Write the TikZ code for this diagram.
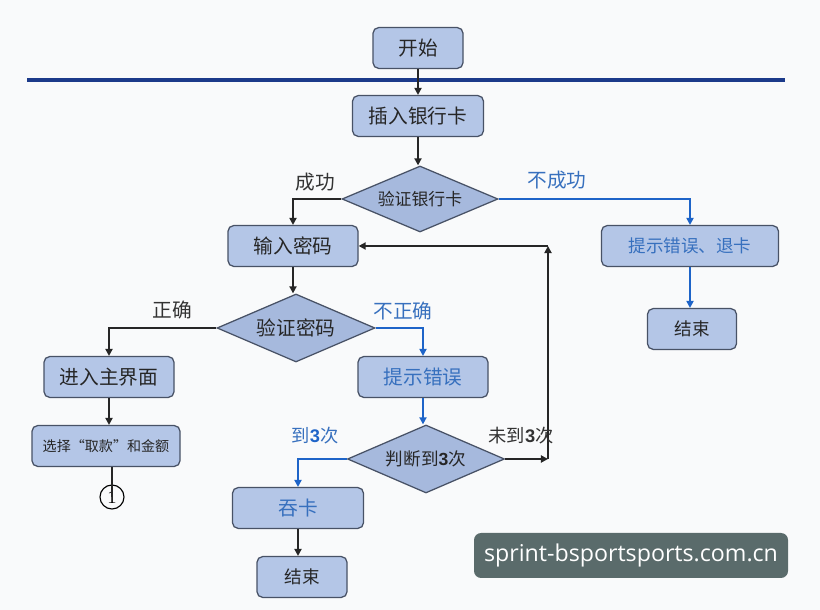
\documentclass[tikz,border=0pt]{standalone}
\usepackage{fontspec}
\setmainfont{Noto Sans CJK SC}
\newfontfamily\numfont{Liberation Sans}
\newfontfamily\serifnum{Liberation Serif}
\newfontfamily\wmfont{Open Sans}
\usetikzlibrary{shapes.geometric, arrows.meta, positioning, calc}
\definecolor{boxfill}{RGB}{180, 198, 231}
\definecolor{diafill}{RGB}{166, 185, 221}
\definecolor{boxedge}{RGB}{72, 82, 102}
\definecolor{linkblue}{RGB}{30, 100, 200}
\definecolor{textblue}{RGB}{55, 112, 190}
\definecolor{ruleblue}{RGB}{28, 58, 138}
\definecolor{wmgray}{RGB}{90, 107, 107}
\definecolor{pagebg}{RGB}{249, 250, 251}

\begin{document}
\begin{tikzpicture}[
  sbox/.style={draw=boxedge, fill=boxfill, rounded corners=4pt, line width=0.9pt, minimum height=1.02cm, inner sep=0pt, font=\fontsize{14}{16}\selectfont, text=black!85},
  dbox/.style={draw=boxedge, fill=diafill, diamond, aspect=2.35, line width=0.9pt, inner sep=0pt, font=\fontsize{12}{14}\selectfont, text=black!85},
  arr/.style={-{Triangle[length=5pt, width=5pt]}, line width=1.4pt, black!85},
  barr/.style={arr, linkblue},
  lbl/.style={font=\fontsize{14}{16}\selectfont, text=black!80},
  blbl/.style={lbl, text=textblue}
]
  \fill[pagebg] (0,0) rectangle (20.5,15.25);
  \useasboundingbox (0,0) rectangle (20.5,15.25);

  % ATM flow
  \node[sbox, minimum width=2.25cm] (start) at (10.45,14.05) {开始};
  \draw[ruleblue, line width=3pt] (0.675,13.25) -- (19.625,13.25);
  \node[sbox, minimum width=3.275cm] (insert) at (10.45,12.35) {插入银行卡};
  \node[dbox, minimum width=3.9cm, minimum height=1.65cm] (vcard) at (10.5,10.275) {验证银行卡};
  \node[sbox, minimum width=3.25cm] (pwd) at (7.325,9.1) {输入密码};
  \node[dbox, minimum width=3.95cm, minimum height=1.7cm, font=\fontsize{14}{16}\selectfont] (vpwd) at (7.4,7.05) {验证密码};
  \node[sbox, minimum width=3.25cm] (mainui) at (2.725,5.825) {进入主界面};
  \node[sbox, minimum width=3.7cm, font=\fontsize{10}{12}\selectfont] (select) at (2.65,4.1) {选择“取款”和金额};
  \node[draw, circle, minimum size=0.6cm, inner sep=0pt, line width=0.8pt, font=\serifnum\fontsize{13}{14}\selectfont] (link) at (2.8,2.825) {1};
  \node[sbox, minimum width=3.25cm, text=textblue] (err) at (10.575,5.825) {提示错误};
  \node[dbox, minimum width=3.925cm, minimum height=1.7cm, font=\fontsize{12.5}{14}\selectfont] (judge) at (10.65,3.775) {判断到{\numfont\bfseries 3}次};
  \node[sbox, minimum width=3.275cm, text=textblue] (eat) at (7.45,2.55) {吞卡};
  \node[sbox, minimum width=2.25cm, font=\fontsize{12.5}{14}\selectfont] (end1) at (7.55,0.825) {结束};
  \node[sbox, minimum width=4.425cm, text=textblue, font=\fontsize{12.5}{14}\selectfont] (errcard) at (17.25,9.1) {提示错误、退卡};
  \node[sbox, minimum width=2.225cm, font=\fontsize{12.5}{14}\selectfont] (end2) at (17.3,7.025) {结束};

  \coordinate (loopB) at (13.7,3.775);
  \coordinate (loopT) at (13.7,9.1);

  \draw[arr] (start) -- (start |- insert.north);
  \draw[arr] (insert) -- (insert |- vcard.north);
  \draw[arr] (vcard.west) -| (pwd.north);
  \draw[barr] (vcard.east) -| (errcard.north);
  \draw[barr] (errcard.south) -- (errcard.south |- end2.north);
  \draw[arr] (pwd.south) -- (pwd.south |- vpwd.north);
  \draw[arr] (vpwd.west) -| (mainui.north);
  \draw[arr] (mainui.south) -- (mainui.south |- select.north);
  \draw[line width=1.4pt, black!85] (select.south -| link) -- (link.center);
  \draw[barr] (vpwd.east) -| (err.north);
  \draw[barr] (err.south) -- (err.south |- judge.north);
  \draw[barr] (judge.west) -| (eat.north);
  \draw[arr] (eat.south) -- (eat.south |- end1.north);
  \draw[arr] (judge.east) -- (loopB);
  \draw[arr] (loopB) -- (loopT);
  \draw[arr] (loopT) -- (pwd.east);

  \node[lbl] (okcard) at (7.875,10.7) {成功};
  \node[blbl] (nocard) at (13.925,10.75) {不成功};
  \node[lbl] (okpwd) at (4.3,7.5) {正确};
  \node[blbl] (nopwd) at (10.075,7.475) {不正确};
  \node[blbl, font=\fontsize{13}{15}\selectfont] (got3) at (7.875,4.35) {到{\numfont\bfseries\color{linkblue}3}次};
  \node[lbl, font=\fontsize{13}{15}\selectfont] (not3) at (13.025,4.35) {未到{\numfont\bfseries 3}次};

  \node[fill=wmgray, rounded corners=5pt, text=white, minimum width=7.85cm, minimum height=1.125cm, font=\wmfont\fontsize{16.5}{19}\selectfont] (mark) at (15.775,1.3625) {sprint-bsportsports.com.cn};
\end{tikzpicture}
\end{document}
